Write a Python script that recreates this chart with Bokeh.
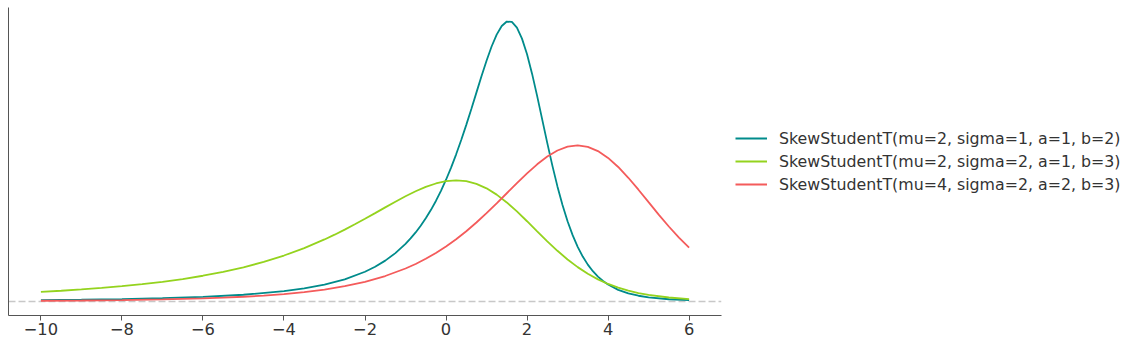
from bokeh.plotting import figure
from bokeh.models import Range1d, FixedTicker, Span, Legend, LegendItem
from bokeh.embed import file_html
from bokeh.resources import INLINE

# Teal: SkewStudentT(mu=2, sigma=1, a=1, b=2)
x_teal = [-10, -9, -8, -7, -6, -5, -4, -3.5, -3, -2.5, -2, -1.75, -1.5, -1.25, -1, -0.875,
          -0.75, -0.625, -0.5, -0.375, -0.25, -0.125, 0, 0.125, 0.25, 0.375, 0.5, 0.625,
          0.75, 0.875, 1, 1.125, 1.25, 1.375, 1.5, 1.625, 1.75, 1.875, 2, 2.125, 2.25,
          2.375, 2.5, 2.625, 2.75, 2.875, 3, 3.125, 3.25, 3.375, 3.5, 3.625, 3.75, 3.875,
          4, 4.25, 4.5, 4.75, 5, 5.5, 6]
y_teal = [0.001675, 0.002159, 0.002849, 0.003862, 0.005408, 0.007883, 0.012076, 0.015285,
          0.019690, 0.025867, 0.034732, 0.040604, 0.047763, 0.056534, 0.067335, 0.073651,
          0.080670, 0.088474, 0.097147, 0.10677, 0.11744, 0.12924, 0.14222, 0.15644,
          0.17191, 0.18858, 0.20633, 0.22493, 0.24399, 0.26301, 0.28125, 0.29783, 0.31174,
          0.32181, 0.32702, 0.32654, 0.31986, 0.30706, 0.28868, 0.26582, 0.23990, 0.21248,
          0.18501, 0.15871, 0.13445, 0.11271, 0.09375, 0.07752, 0.06384, 0.05246, 0.04306,
          0.03536, 0.02907, 0.02394, 0.01977, 0.013603, 0.00949, 0.006723, 0.004834,
          0.002613, 0.001491]

# Green: SkewStudentT(mu=2, sigma=2, a=1, b=3)
x_green = [-10, -9.5, -9, -8.5, -8, -7.5, -7, -6.5, -6, -5.5, -5, -4.5, -4, -3.5, -3,
           -2.75, -2.5, -2.25, -2, -1.75, -1.5, -1.25, -1, -0.75, -0.5, -0.25, 0, 0.25,
           0.5, 0.75, 1, 1.25, 1.5, 1.75, 2, 2.25, 2.5, 2.75, 3, 3.25, 3.5, 3.75, 4, 4.25,
           4.5, 4.75, 5, 5.5, 6]
y_green = [0.011258, 0.012568, 0.014079, 0.015828, 0.017860, 0.020230, 0.023004, 0.026260,
           0.030094, 0.034617, 0.039961, 0.046273, 0.053706, 0.062408, 0.072483, 0.078043,
           0.083943, 0.090142, 0.096593, 0.10322, 0.10992, 0.11653, 0.12288, 0.12874,
           0.13382, 0.13785, 0.14050, 0.14146, 0.14049, 0.13741, 0.13216, 0.12485, 0.11572,
           0.10519, 0.09375, 0.08194, 0.07028, 0.05923, 0.04912, 0.04015, 0.03240, 0.02588,
           0.02050, 0.01613, 0.01263, 0.00986, 0.00768, 0.00466, 0.002843]

# Red: SkewStudentT(mu=4, sigma=2, a=2, b=3)
x_red = [-10, -9, -8, -7, -6, -5.5, -5, -4.5, -4, -3.5, -3, -2.5, -2, -1.5, -1, -0.75,
         -0.5, -0.25, 0, 0.25, 0.5, 0.75, 1, 1.25, 1.5, 1.75, 2, 2.25, 2.5, 2.75, 3, 3.25,
         3.5, 3.75, 4, 4.25, 4.5, 4.75, 5, 5.25, 5.5, 5.75, 6]
y_red = [0.000854, 0.001189, 0.001687, 0.002448, 0.003638, 0.004477, 0.005547, 0.006918,
         0.008688, 0.010984, 0.013978, 0.017896, 0.023033, 0.029765, 0.038545, 0.043866,
         0.049891, 0.056686, 0.064300, 0.072770, 0.082097, 0.092252, 0.10314, 0.11462,
         0.12644, 0.13828, 0.14972, 0.16025, 0.16932, 0.17636, 0.18085, 0.18235, 0.18065,
         0.17569, 0.16771, 0.15712, 0.14452, 0.13059, 0.11606, 0.10155, 0.08762, 0.07465,
         0.06291]

labels = ["SkewStudentT(mu=2, sigma=1, a=1, b=2)",
          "SkewStudentT(mu=2, sigma=2, a=1, b=3)",
          "SkewStudentT(mu=4, sigma=2, a=2, b=3)"]
colors = ["#008b8b", "#94d31e", "#f45b5b"]

tick_values = [-10, -8, -6, -4, -2, 0, 2, 4, 6]
tick_labels = ["\u221210", "\u22128", "\u22126", "\u22124", "\u22122", "0", "2", "4", "6"]

FONT = "DejaVu Sans"

p = figure(frame_width=713, frame_height=308, output_backend="svg", toolbar_location=None,
           x_range=Range1d(-10.8, 6.8), y_range=Range1d(-0.01635, 0.3434),
           min_border_left=8, min_border_top=7, min_border_bottom=32, min_border_right=0)
p.outline_line_color = None
p.xgrid.visible = False
p.ygrid.visible = False
p.background_fill_color = "white"
p.border_fill_color = "white"

p.add_layout(Span(location=0, dimension="width", line_color="#c8c8c8",
                  line_dash="7 3", line_width=1.5, level="underlay"))

renderers = []
for xs, ys, c in zip([x_teal, x_green, x_red], [y_teal, y_green, y_red], colors):
    r = p.line(xs, ys, line_color=c, line_width=1.8)
    renderers.append(r)

# axes
xa = p.xaxis[0]
xa.ticker = FixedTicker(ticks=tick_values)
xa.major_label_overrides = {v: l for v, l in zip(tick_values, tick_labels)}
xa.major_tick_out = 5
xa.major_tick_in = 0
xa.minor_tick_line_color = None
xa.axis_line_color = "#555555"
xa.major_tick_line_color = "#555555"
xa.major_label_text_font = FONT
xa.major_label_text_font_size = "16.3px"
xa.major_label_text_color = "#333333"
xa.major_label_standoff = 2

ya = p.yaxis[0]
ya.ticker = FixedTicker(ticks=[])
ya.major_tick_out = 0
ya.major_tick_in = 0
ya.minor_tick_out = 0
ya.minor_tick_in = 0
ya.major_label_text_font_size = "0px"
ya.major_label_standoff = 0
ya.axis_line_color = "#555555"

legend = Legend(items=[LegendItem(label=l, renderers=[r]) for l, r in zip(labels, renderers)],
                location="center_left")
legend.border_line_color = None
legend.background_fill_alpha = 0
legend.label_text_font = FONT
legend.label_text_font_size = "15.8px"
legend.label_text_color = "#333333"
legend.glyph_width = 32
legend.glyph_height = 20
legend.label_height = 20
legend.label_standoff = 12
legend.spacing = 3
legend.padding = 0
legend.margin = 14
p.add_layout(legend, "right")

open("out.html", "w").write(file_html(p, INLINE))
